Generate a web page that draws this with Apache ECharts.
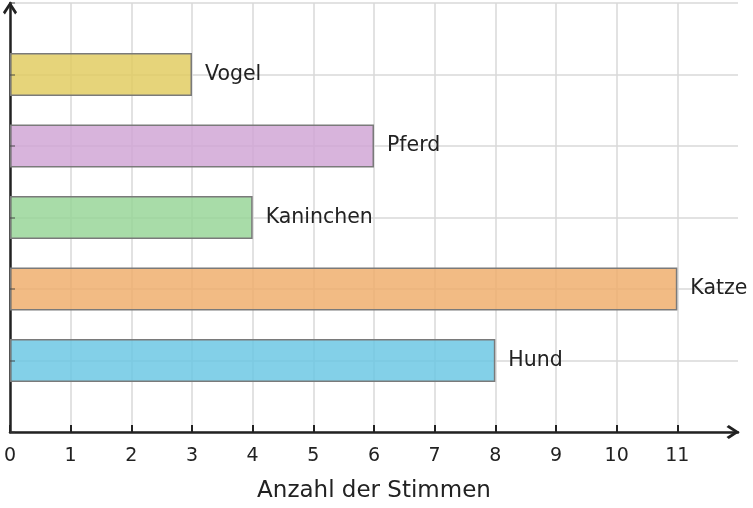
<!DOCTYPE html>
<html>
<head>
<meta charset="utf-8">
<script src="https://cdn.jsdelivr.net/npm/echarts@6/dist/echarts.min.js"></script>
<style>
html, body { margin: 0; padding: 0; background: #fff; }
#main { width: 753px; height: 508px; }
</style>
</head>
<body>
<div id="main"></div>
<script>
// Daten
var kategorien = ['', 'Hund', 'Katze', 'Kaninchen', 'Pferd', 'Vogel', ''];
var stimmen = [null, 8, 11, 4, 6, 3, null];
var farben = ['', '#6dc8e4', '#f0af6f', '#99d699', '#d1a7d6', '#e2cd63', ''];
var xTicks = [0, 1, 2, 3, 4, 5, 6, 7, 8, 9, 10, 11];

// offener Pfeil wie im Original
var pfeil = 'path://M0,7.6 L5,0 L10,7.6 L8.6,9.2 L5,3.6 L1.4,9.2 Z';

var chartDom = document.getElementById('main');
var myChart = echarts.init(chartDom);
var option;

option = {
    animation: false,
    textStyle: { fontFamily: 'DejaVu Sans' },
    grid: { left: 10, right: 15, top: 3, bottom: 76 },
    xAxis: {
        type: 'value',
        min: 0,
        max: 12,
        interval: 1,
        name: 'Anzahl der Stimmen',
        nameLocation: 'middle',
        nameGap: 48,
        nameTextStyle: { fontSize: 23, color: '#222' },
        axisLine: {
            show: true,
            symbol: ['none', pfeil],
            symbolSize: [15, 13],
            symbolOffset: [0, -5],
            lineStyle: { color: '#222', width: 2.5 }
        },
        axisTick: {
            show: true,
            inside: true,
            length: 7,
            customValues: xTicks,
            lineStyle: { color: '#222', width: 2 }
        },
        axisLabel: {
            customValues: xTicks,
            margin: 15,
            fontSize: 19,
            color: '#222'
        },
        splitLine: { show: true, lineStyle: { color: '#d9d9d9', width: 1.5 } }
    },
    yAxis: [
        {
            type: 'category',
            data: kategorien,
            boundaryGap: false,
            axisLine: {
                show: true,
                symbol: ['none', pfeil],
                symbolSize: [15, 13],
                symbolOffset: [0, -5],
                lineStyle: { color: '#222', width: 2.5 }
            },
            axisTick: { show: false },
            axisLabel: { show: false },
            splitLine: { show: true, lineStyle: { color: '#d9d9d9', width: 1.5 } }
        },
        {
            // nur die kleinen Striche über den Balken
            type: 'category',
            data: kategorien,
            boundaryGap: false,
            position: 'left',
            z: 3,
            axisLine: { show: false },
            axisTick: {
                show: true,
                inside: true,
                length: 5,
                lineStyle: { color: 'rgba(60,60,60,0.6)', width: 1.5 }
            },
            axisLabel: { show: false },
            splitLine: { show: false }
        }
    ],
    series: [
        {
            type: 'bar',
            barWidth: 43,
            data: stimmen.map(function (v, i) {
                return {
                    value: v,
                    itemStyle: { color: v == null ? null : echarts.color.modifyAlpha(farben[i], 0.85) }
                };
            }),
            itemStyle: {
                borderColor: '#7a7a7a',
                borderWidth: 1.5
            },
            label: {
                show: true,
                position: 'right',
                distance: 13,
                fontSize: 20.5,
                color: '#222',
                formatter: function (p) { return p.name; }
            }
        }
    ]
};

option && myChart.setOption(option);
</script>
</body>
</html>
